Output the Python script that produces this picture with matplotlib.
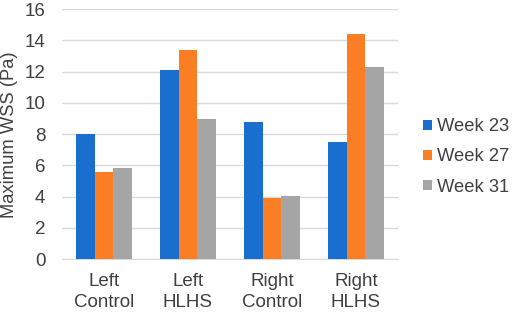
import matplotlib
matplotlib.use("Agg")
import matplotlib.pyplot as plt
import numpy as np

categories = ["Left\nControl", "Left\nHLHS", "Right\nControl", "Right\nHLHS"]
series_names = ["Week 23", "Week 27", "Week 31"]
week23 = [8.0, 12.1, 8.8, 7.5]
week27 = [5.57, 13.37, 3.94, 14.43]
week31 = [5.82, 9.0, 4.03, 12.28]
colors = ["#1A6FCE", "#FB7E24", "#A5A5A5"]
yticks = [0, 2, 4, 6, 8, 10, 12, 14, 16]

plt.rcParams['font.family'] = ['Liberation Sans', 'DejaVu Sans']

fig = plt.figure(figsize=(5.12, 3.12), dpi=100)
ax = fig.add_axes([0.121, 0.169, 0.656, 0.802])

x = np.arange(len(categories))
w = 0.222
for i, (vals, name, c) in enumerate(zip([week23, week27, week31], series_names, colors)):
    ax.bar(x + (i - 1) * w, vals, width=w, color=c, label=name, zorder=3)

ax.set_xlim(-0.5, 3.5)
ax.set_ylim(0, 16)
ax.set_yticks(yticks)
ax.set_xticks(x)
ax.set_xticklabels(categories, linespacing=1.3)
ax.grid(axis='y', color='#D9D9D9', linewidth=1, zorder=0)
for s in ['top', 'right', 'left']:
    ax.spines[s].set_visible(False)
ax.spines['bottom'].set_color('#D9D9D9')
ax.tick_params(axis='both', length=0, labelsize=13.5, colors='#404040')
ax.tick_params(axis='y', pad=12)
ax.tick_params(axis='x', pad=10)

fig.text(10 / 512, (312 - 135) / 312, "Maximum WSS (Pa)", rotation=90,
         ha='center', va='center', fontsize=13.2, color='#404040')

fig.legend(loc='center left', bbox_to_anchor=(0.826, 0.497), frameon=False,
           fontsize=13.2, handlelength=0.5, handleheight=0.5, handletextpad=0.25,
           labelspacing=0.72, labelcolor='#404040', borderpad=0, borderaxespad=0)

fig.savefig("out.png", dpi=100)
